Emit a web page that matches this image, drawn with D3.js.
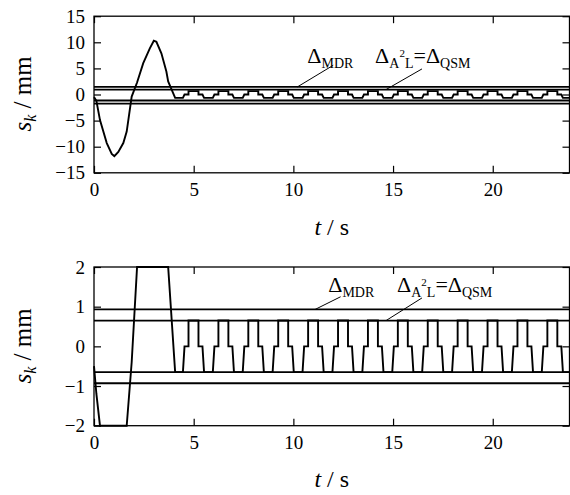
<!DOCTYPE html>
<html>
<head>
<meta charset="utf-8">
<script src="https://cdn.jsdelivr.net/npm/d3@7"></script>
</head>
<body style="margin:0;background:#fff">
<script>
// time [s] and displacement s_k [mm]
var time = [0, 0.12, 0.3, 0.64, 0.89, 1.02, 1.22, 1.47, 1.64, 1.89, 2.16, 2.47, 2.8, 3.0, 3.13, 3.38, 3.63, 3.72, 4.07,
  4.46, 4.54, 4.74, 4.74, 5.24, 5.24, 5.44, 5.52,
  5.96, 6.04, 6.24, 6.24, 6.74, 6.74, 6.94, 7.02,
  7.46, 7.54, 7.74, 7.74, 8.24, 8.24, 8.44, 8.52,
  8.96, 9.04, 9.24, 9.24, 9.74, 9.74, 9.94, 10.02,
  10.46, 10.54, 10.74, 10.74, 11.24, 11.24, 11.44, 11.52,
  11.96, 12.04, 12.24, 12.24, 12.74, 12.74, 12.94, 13.02,
  13.46, 13.54, 13.74, 13.74, 14.24, 14.24, 14.44, 14.52,
  14.96, 15.04, 15.24, 15.24, 15.74, 15.74, 15.94, 16.02,
  16.46, 16.54, 16.74, 16.74, 17.24, 17.24, 17.44, 17.52,
  17.96, 18.04, 18.24, 18.24, 18.74, 18.74, 18.94, 19.02,
  19.46, 19.54, 19.74, 19.74, 20.24, 20.24, 20.44, 20.52,
  20.96, 21.04, 21.24, 21.24, 21.74, 21.74, 21.94, 22.02,
  22.46, 22.54, 22.74, 22.74, 23.24, 23.24, 23.44, 23.52, 23.85];
var disp = [-0.5, -1.2, -4.9, -9.3, -11.4, -11.8, -11.0, -9.3, -7.1, -0.4, 2.3, 6.0, 8.85, 10.3, 10.1, 7.9, 4.4, 2.5, -0.65,
  -0.65, 0, 0, 0.65, 0.65, 0, 0, -0.65,
  -0.65, 0, 0, 0.65, 0.65, 0, 0, -0.65,
  -0.65, 0, 0, 0.65, 0.65, 0, 0, -0.65,
  -0.65, 0, 0, 0.65, 0.65, 0, 0, -0.65,
  -0.65, 0, 0, 0.65, 0.65, 0, 0, -0.65,
  -0.65, 0, 0, 0.65, 0.65, 0, 0, -0.65,
  -0.65, 0, 0, 0.65, 0.65, 0, 0, -0.65,
  -0.65, 0, 0, 0.65, 0.65, 0, 0, -0.65,
  -0.65, 0, 0, 0.65, 0.65, 0, 0, -0.65,
  -0.65, 0, 0, 0.65, 0.65, 0, 0, -0.65,
  -0.65, 0, 0, 0.65, 0.65, 0, 0, -0.65,
  -0.65, 0, 0, 0.65, 0.65, 0, 0, -0.65,
  -0.65, 0, 0, 0.65, 0.65, 0, 0, -0.65, -0.65];

// threshold lines (MDR outer pair, A2L = QSM inner pair)
var topLevels = [1.45, 0.95, -1.15, -1.75];
var bottomLevels = [0.93, 0.65, -0.65, -0.93];

var xTicks = [0, 5, 10, 15, 20];
var topYTicks = [-15, -10, -5, 0, 5, 10, 15];
var bottomYTicks = [-2, -1, 0, 1, 2];

var serif = "'Times New Roman', 'Liberation Serif', 'DejaVu Serif', serif";
var data = time.map(function(t, i) { return { t: t, s: disp[i] }; });
var fmt = d3.format("d");

var svg = d3.select("body").append("svg")
    .attr("width", 570)
    .attr("height", 495)
    .style("font-family", serif);

var x = d3.scaleLinear().domain([0, 23.85]).range([94, 569.5]);

var panels = [
  { domain: [-15, 15], range: [172.8, 16.2], ticks: topYTicks, levels: topLevels,
    mdrLabel: [10.7, 6.0], qsmLabel: [14.1, 6.0],
    mdrLead: [[12.0, 5.6], [10.2, topLevels[0]]], qsmLead: [[16.45, 4.9], [14.65, topLevels[1]]],
    xLabelY: 235, yTitleY: 94 },
  { domain: [-2, 2], range: [425.7, 267], ticks: bottomYTicks, levels: bottomLevels,
    mdrLabel: [11.75, 1.37], qsmLabel: [15.2, 1.37],
    mdrLead: [[12.37, 1.25], [11.09, bottomLevels[0]]], qsmLead: [[16.45, 1.22], [14.65, bottomLevels[1]]],
    xLabelY: 487, yTitleY: 346 }
];

panels.forEach(function(p) {
  var y = d3.scaleLinear().domain(p.domain).range(p.range).clamp(true);
  var g = svg.append("g");

  // threshold lines
  g.selectAll("line.level")
    .data(p.levels)
    .enter().append("line")
    .attr("x1", x(0)).attr("x2", x(23.85))
    .attr("y1", function(d) { return y(d); })
    .attr("y2", function(d) { return y(d); })
    .attr("stroke", "#000").attr("stroke-width", 1.8);

  // signal
  var line = d3.line()
    .x(function(d) { return x(d.t); })
    .y(function(d) { return y(d.s); });
  g.append("path")
    .datum(data)
    .attr("d", line)
    .attr("fill", "none")
    .attr("stroke", "#000")
    .attr("stroke-width", 1.9);

  // axes with inward ticks, mirrored on top and right
  var yTop = p.range[1], yBot = p.range[0];
  var ax = [
    g.append("g").attr("transform", "translate(0," + yBot + ")")
      .call(d3.axisBottom(x).tickValues(xTicks).tickFormat(fmt).tickSize(-7).tickSizeOuter(0).tickPadding(10)),
    g.append("g").attr("transform", "translate(0," + yTop + ")")
      .call(d3.axisTop(x).tickValues(xTicks).tickSize(-7).tickSizeOuter(0).tickFormat("")),
    g.append("g").attr("transform", "translate(" + x(0) + ",0)")
      .call(d3.axisLeft(y).tickValues(p.ticks).tickFormat(fmt).tickSize(-7).tickSizeOuter(0).tickPadding(9)),
    g.append("g").attr("transform", "translate(" + x(23.85) + ",0)")
      .call(d3.axisRight(y).tickValues(p.ticks).tickSize(-7).tickSizeOuter(0).tickFormat(""))
  ];
  ax.forEach(function(a) {
    a.attr("font-family", serif);
    a.select(".domain").remove();
    a.selectAll("line").attr("stroke", "#000").attr("stroke-width", 1.2);
    a.selectAll("text").attr("font-size", 19).attr("fill", "#000").style("font-family", serif);
  });

  // frame
  g.append("rect")
    .attr("x", x(0)).attr("y", yTop)
    .attr("width", x(23.85) - x(0)).attr("height", yBot - yTop)
    .attr("fill", "none").attr("stroke", "#000").attr("stroke-width", 1.3);

  // axis titles
  var xt = g.append("text")
    .attr("x", (x(0) + x(23.85)) / 2).attr("y", p.xLabelY)
    .attr("text-anchor", "middle").attr("font-size", 24).style("font-family", serif);
  xt.append("tspan").attr("font-style", "italic").text("t");
  xt.append("tspan").text(" / s");

  var yt = g.append("text")
    .attr("transform", "translate(31," + p.yTitleY + ") rotate(-90)")
    .attr("text-anchor", "middle").attr("font-size", 25).style("font-family", serif);
  yt.append("tspan").attr("font-style", "italic").text("s");
  yt.append("tspan").attr("font-style", "italic").attr("font-size", 16).attr("dy", 5).text("k");
  yt.append("tspan").attr("dy", -5).text(" / mm");

  // annotations
  var l1 = g.append("text")
    .attr("x", x(p.mdrLabel[0])).attr("y", y(p.mdrLabel[1]))
    .attr("font-size", 22).style("font-family", serif);
  l1.append("tspan").text("\u0394");
  l1.append("tspan").attr("font-size", 14).attr("dy", 5).text("MDR");

  var l2 = g.append("text")
    .attr("x", x(p.qsmLabel[0])).attr("y", y(p.qsmLabel[1]))
    .attr("font-size", 22).style("font-family", serif);
  l2.append("tspan").text("\u0394");
  l2.append("tspan").attr("font-size", 14).attr("dy", 5).text("A");
  l2.append("tspan").attr("font-size", 11).attr("dy", -11).text("2");
  l2.append("tspan").attr("font-size", 14).attr("dy", 11).text("L");
  l2.append("tspan").attr("dy", -5).text("=");
  l2.append("tspan").text("\u0394");
  l2.append("tspan").attr("font-size", 14).attr("dy", 5).text("QSM");

  [p.mdrLead, p.qsmLead].forEach(function(ld) {
    g.append("line")
      .attr("x1", x(ld[0][0])).attr("y1", y(ld[0][1]))
      .attr("x2", x(ld[1][0])).attr("y2", y(ld[1][1]))
      .attr("stroke", "#000").attr("stroke-width", 1);
  });
});
</script>
</body>
</html>
